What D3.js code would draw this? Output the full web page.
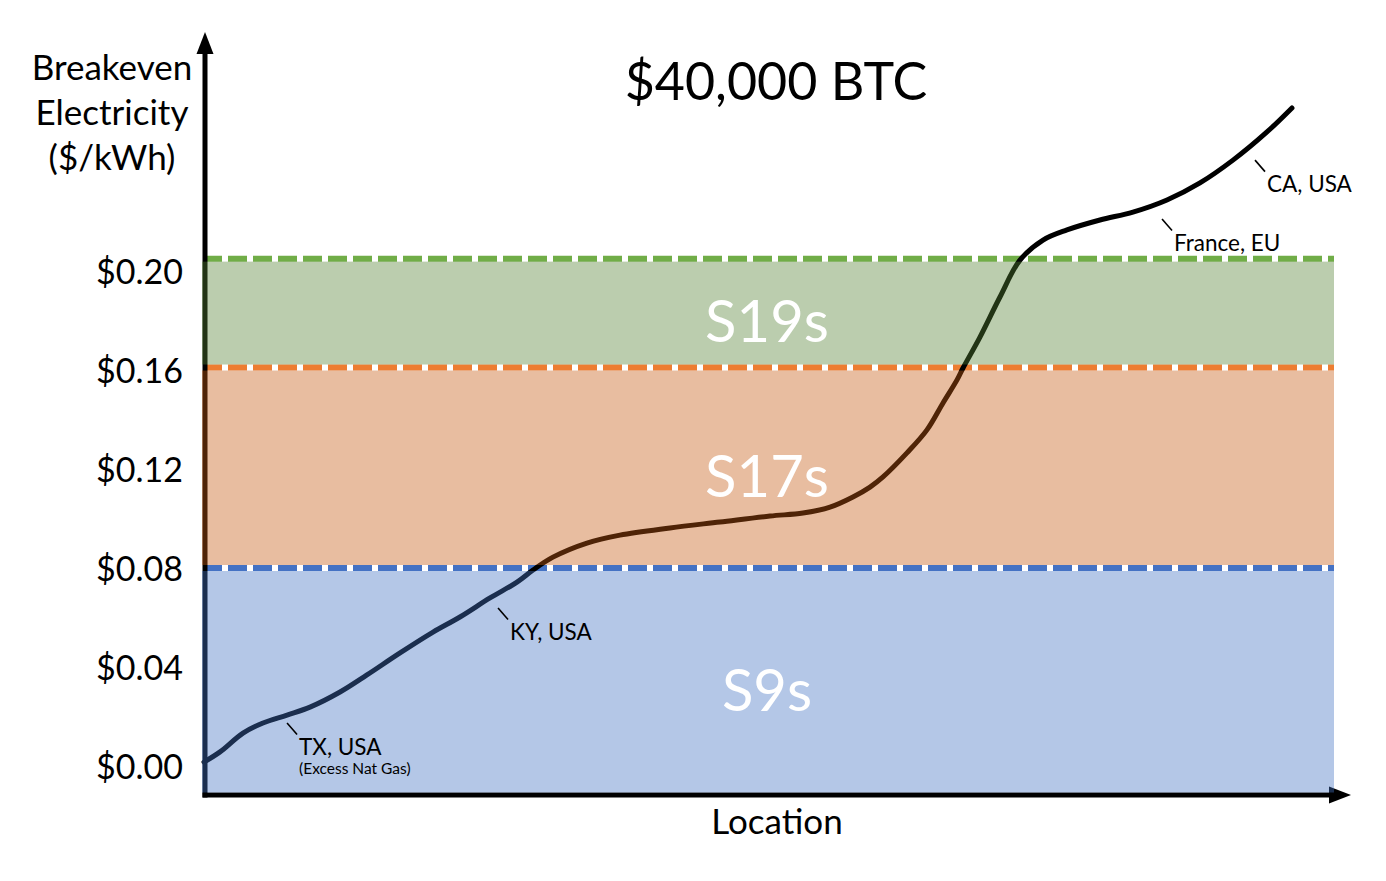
<!DOCTYPE html>
<html>
<head>
<meta charset="utf-8">
<script src="https://cdn.jsdelivr.net/npm/d3@7"></script>
<style>
  html, body { margin: 0; padding: 0; background: #fff; }
  svg { display: block; font-family: Lato, "Open Sans", sans-serif; }
</style>
</head>
<body>
<svg id="chart" width="1386" height="881"></svg>
<script>
// ---------------- data ----------------
const chartTitle = "$40,000 BTC";
const yAxisTitle = ["Breakeven", "Electricity", "($/kWh)"];
const xAxisTitle = "Location";

// location index (0-100 along the x axis) and breakeven electricity price ($/kWh)
const locationIdx = [0, 1.42, 3.45, 5.22, 7.35, 9.38, 12.04, 14.42, 17.35, 20.27, 22.65, 25.31, 27.70, 29.12,
  30.88, 33.89, 36.81, 41.24, 45.66, 50.09, 53.01, 55.40, 57.43, 58.94, 60.09, 62.21, 63.98, 65.40, 66.64,
  67.17, 68.67, 70.44, 72.21, 74.25, 76.37, 79.29, 82.21, 85.22, 88.14, 91.06, 94.07, 96.28];
const breakeven = [0.0016, 0.0057, 0.0133, 0.0174, 0.0206, 0.0238, 0.0299, 0.0368, 0.0457, 0.0541, 0.0602,
  0.0679, 0.0743, 0.0792, 0.0844, 0.0901, 0.0933, 0.0962, 0.0986, 0.1010, 0.1022, 0.1046, 0.1087, 0.1127,
  0.1168, 0.1265, 0.1358, 0.1467, 0.1560, 0.1608, 0.1733, 0.1895, 0.2044, 0.2125, 0.2166, 0.2206, 0.2238,
  0.2287, 0.2356, 0.2448, 0.2562, 0.2659];

const tickValues = [0, 0.04, 0.08, 0.12, 0.16, 0.20];
const tickLabels = ["$0.00", "$0.04", "$0.08", "$0.12", "$0.16", "$0.20"];

const bandNames = ["S9s", "S17s", "S19s"];
const bandLow   = [0, 0.08, 0.161];
const bandHigh  = [0.08, 0.161, 0.205];
const bandFill  = ["#4472c4", "#c55a11", "#548235"];
const bandLine  = ["#4472c4", "#ed7d31", "#70ad47"];

const annoLabels = ["TX, USA", "KY, USA", "France, EU", "CA, USA"];
const annoSub    = ["(Excess Nat Gas)", "", "", ""];
const annoX      = [7.35, 26.02, 84.78, 93.01];
const annoY      = [0.0174, 0.0638, 0.2210, 0.2448];

// ---------------- layout ----------------
const W = 1386, H = 881;
const axisX = 205, axisBottom = 795, axisTop = 32, xArrowTip = 1351;
const plotLeft = 203, plotRight = 1334;

const x = d3.scaleLinear().domain([0, 100]).range([204, 1334]);
const y = d3.scaleLinear().domain([0, 0.20]).range([766, 271]);

const svg = d3.select("#chart");
svg.append("rect").attr("width", W).attr("height", H).attr("fill", "#fff");

// dashed threshold lines (white base + coloured dashes)
const lines = svg.append("g");
bandHigh.forEach((v, i) => {
  lines.append("line").attr("x1", plotLeft).attr("x2", plotRight)
    .attr("y1", y(v)).attr("y2", y(v))
    .attr("stroke", "#fff").attr("stroke-width", 6);
  lines.append("line").attr("x1", plotLeft).attr("x2", plotRight)
    .attr("y1", y(v)).attr("y2", y(v))
    .attr("stroke", bandLine[i]).attr("stroke-width", 6)
    .attr("stroke-dasharray", "19,6");
});

// axes (thick lines with arrowheads)
const ax = svg.append("g");
ax.append("line").attr("x1", axisX).attr("x2", axisX).attr("y1", axisBottom + 2.5).attr("y2", axisTop + 18)
  .attr("stroke", "#000").attr("stroke-width", 5);
ax.append("path").attr("d", `M${axisX},${axisTop} L${axisX - 8.5},${axisTop + 22} L${axisX + 8.5},${axisTop + 22} Z`)
  .attr("fill", "#000");
ax.append("line").attr("x1", axisX - 2.5).attr("x2", xArrowTip - 18).attr("y1", axisBottom).attr("y2", axisBottom)
  .attr("stroke", "#000").attr("stroke-width", 5);
ax.append("path").attr("d", `M${xArrowTip},${axisBottom} L${xArrowTip - 22},${axisBottom - 8.5} L${xArrowTip - 22},${axisBottom + 8.5} Z`)
  .attr("fill", "#000");

// curve
const pts = locationIdx.map((d, i) => [d, breakeven[i]]);
svg.append("path")
  .attr("d", d3.line().x(d => x(d[0])).y(d => y(d[1])).curve(d3.curveCatmullRom.alpha(0.5))(pts))
  .attr("fill", "none").attr("stroke", "#000").attr("stroke-width", 5)
  .attr("stroke-linecap", "round").attr("stroke-linejoin", "round");

// bands (translucent, drawn over curve & axis, between the dashed lines)
const bands = svg.append("g");
bandNames.forEach((name, i) => {
  const top = y(bandHigh[i]) + 3;
  const bot = i === 0 ? axisBottom - 2.5 : y(bandLow[i]) - 3;
  bands.append("rect").attr("x", plotLeft - 1).attr("y", top)
    .attr("width", plotRight - plotLeft + 1).attr("height", bot - top)
    .attr("fill", bandFill[i]).attr("fill-opacity", 0.4);
  bands.append("text").attr("x", 767).attr("y", (top + bot) / 2 + 8)
    .attr("dy", "0.36em").attr("text-anchor", "middle")
    .attr("fill", "#fff").attr("font-size", 58).text(name);
});

// y tick labels via d3 axis
const yAxis = d3.axisLeft(y).tickValues(tickValues)
  .tickFormat((d, i) => tickLabels[i]).tickSize(0).tickPadding(21);
const yg = svg.append("g").attr("transform", `translate(${204},0)`).call(yAxis);
yg.select(".domain").remove();
yg.selectAll("text").attr("font-size", 34).attr("font-family", "Lato, sans-serif")
  .attr("fill", "#000").attr("dy", "0.36em");

// annotations
const an = svg.append("g");
annoLabels.forEach((lab, i) => {
  const ax0 = x(annoX[i]), ay0 = y(annoY[i]);
  an.append("line").attr("x1", ax0).attr("y1", ay0).attr("x2", ax0 + 10).attr("y2", ay0 + 11.5)
    .attr("stroke", "#000").attr("stroke-width", 1.6);
  an.append("text").attr("x", ax0 + 12).attr("y", ay0 + 32).attr("font-size", 22.5).attr("fill", "#000").text(lab);
  if (annoSub[i]) {
    an.append("text").attr("x", ax0 + 12).attr("y", ay0 + 51).attr("font-size", 15.5).attr("fill", "#000").text(annoSub[i]);
  }
});

// titles
svg.append("text").attr("x", 776).attr("y", 100).attr("text-anchor", "middle")
  .attr("font-size", 52).attr("fill", "#000").text(chartTitle);
svg.append("text").attr("x", 777).attr("y", 834).attr("text-anchor", "middle")
  .attr("font-size", 35).attr("fill", "#000").text(xAxisTitle);
yAxisTitle.forEach((t, i) => {
  svg.append("text").attr("x", 112).attr("y", 80 + i * 45).attr("text-anchor", "middle")
    .attr("font-size", 35).attr("fill", "#000").text(t);
});
</script>
</body>
</html>
